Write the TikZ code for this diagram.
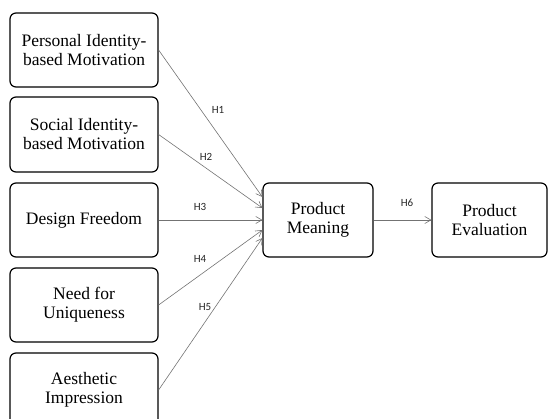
\documentclass[tikz,border=0pt]{standalone}
\usepackage{fontspec}
\setmainfont{Liberation Serif}
\newfontfamily\labfont{Carlito}
\usetikzlibrary{arrows.meta}
\begin{document}
\begin{tikzpicture}[x=1pt,y=-1pt,
  box/.style={draw=black,line width=1.2pt,rounded corners=6pt,align=center,
    font=\fontsize{17.5}{19}\selectfont,inner sep=0pt},
  conn/.style={draw=black!55,line width=0.6pt,-{Straight Barb[length=6pt,width=7pt,line width=0.6pt]}},
  hlab/.style={font=\labfont\fontsize{11}{12}\selectfont,text=black!85}]
\useasboundingbox (0,0) rectangle (548,419);
\node[box,minimum width=148pt,minimum height=74pt] (p) at (84,50) {Personal Identity-\\based Motivation};
\node[box,minimum width=148pt,minimum height=75pt] (s) at (84,134.5) {Social Identity-\\based Motivation};
\node[box,minimum width=148pt,minimum height=74pt] (d) at (84,220) {Design Freedom};
\node[box,minimum width=148pt,minimum height=74pt] (n) at (84,305) {Need for\\Uniqueness};
\node[box,minimum width=148pt,minimum height=74pt] (a) at (84,390) {Aesthetic\\Impression};
\node[box,minimum width=110pt,minimum height=74pt] (m) at (318,220) {Product\\Meaning};
\node[box,minimum width=115pt,minimum height=74pt] (e) at (489.5,220) {Product\\Evaluation};
\path[conn] (p.east) -- ([yshift=23pt]m.west);
\path[conn] (s.east) -- ([yshift=12pt]m.west);
\path[conn] (d.east) -- (m.west);
\path[conn] (n.east) -- ([yshift=-10pt]m.west);
\path[conn] (a.east) -- ([yshift=-18pt]m.west);
\path[conn] (m.east) -- (e.west);
\node[hlab] (h1) at (218,110) {H1};
\node[hlab] (h2) at (206,157) {H2};
\node[hlab] (h3) at (200,207) {H3};
\node[hlab] (h4) at (200,259) {H4};
\node[hlab] (h5) at (205,307) {H5};
\node[hlab] (h6) at (407,203) {H6};
\end{tikzpicture}
\end{document}
